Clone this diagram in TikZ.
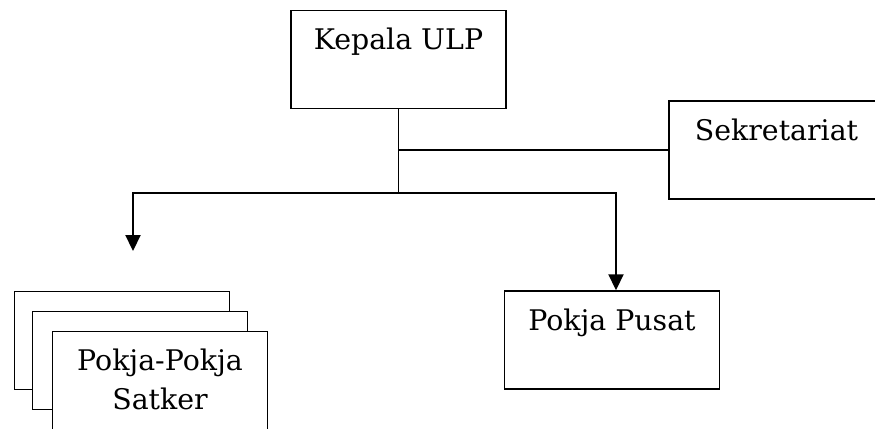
\documentclass[tikz,border=0pt]{standalone}
\usepackage{fontspec}
\setmainfont{DejaVu Serif}
\usetikzlibrary{positioning, arrows.meta}
\tikzset{
    >={Triangle[width=7.5pt,length=8pt]}, % solid arrow heads
    unit/.style={draw, fill=white, line width=0.75pt, minimum width=107.5pt, minimum height=49pt,
        inner sep=0pt, text height=19.5pt, text depth=29.5pt, align=center,
        font=\fontsize{14.2}{19.5}\selectfont}, % every box of the chart
    twoline/.style={text height=39pt, text depth=10pt}, % box with two text lines
    link/.style={line width=0.7pt}, % thin connectors
    bus/.style={line width=1.1pt}, % the thick branch line
}
\begin{document}
\begin{tikzpicture}[x=0.5pt, y=-0.5pt]
    \useasboundingbox (0,0) rectangle (875,429);
    \clip (0,0) rectangle (875,429);
    \node[unit] (kepala) at (398.5,59.5) {Kepala ULP};
    \node[unit] (sekretariat) at (776.5,150) {Sekretariat};
    \node[unit] (pusat) at (612,340) {Pokja Pusat};
    \node[unit] (satkerA) at (122,340.5) {};
    \node[unit] (satkerB) at (140,360.5) {};
    \node[unit, twoline] (satker) at (160,380.5) {Pokja-Pokja\\Satker};
    \coordinate (fork) at (kepala.south |- 0,193);
    \coordinate (split) at (kepala.south |- sekretariat.west);
    \coordinate (busL) at (133,193);
    \coordinate (busR) at (616,193);
    \coordinate (satkerend) at (133,251);
    \draw[link] (kepala.south) -- (fork);
    \draw[link] (split) -- (sekretariat.west);
    \draw[bus, ->] (fork) -- (busL) -- (satkerend);
    \draw[bus, ->] (fork) -- (busR) -- (busR |- pusat.north);
\end{tikzpicture}
\end{document}
